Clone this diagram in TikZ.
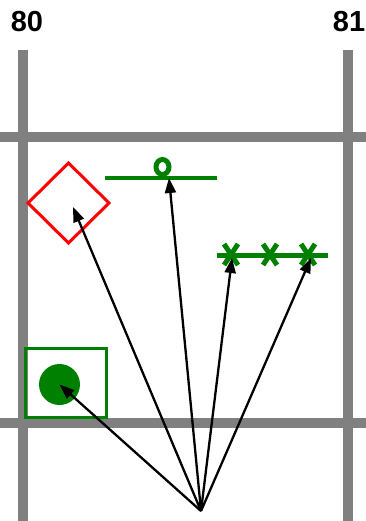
\documentclass[tikz,border=0pt]{standalone}
\usepackage{fontspec}
\setmainfont{Liberation Sans}
\usetikzlibrary{arrows.meta}
\definecolor{gridgray}{HTML}{808080}
\definecolor{dgreen}{HTML}{008000}
\begin{document}
\begin{tikzpicture}[x=1pt,y=-1pt,
  gridline/.style={gridgray,line width=10pt},
  lbl/.style={font=\fontsize{29}{30}\selectfont\bfseries,inner sep=0pt},
  greenline/.style={dgreen,line width=4.5pt},
  xmark/.style={dgreen,line width=5pt},
  arr/.style={black,line width=2.3pt,-{Triangle[length=15pt,width=11pt]}}]
\useasboundingbox (0,0) rectangle (366,521);
% grid
\draw[gridline] (23,50) -- (23,521);
\draw[gridline] (348,50) -- (348,521);
\draw[gridline] (0,137) -- (366,137);
\draw[gridline] (0,423) -- (366,423);
\node[lbl] (l80) at (27,22) {80};
\node[lbl] (l81) at (349,22) {81};
% diamond
\draw[red,line width=3pt] (68.5,163) -- (109,203) -- (68.5,243) -- (28,203) -- cycle;
\coordinate (dia) at (73,207);
% box with circle
\draw[dgreen,line width=3pt] (25,348) rectangle (106,417);
\fill[dgreen] (59.5,384.5) circle (20.5);
\coordinate (dot) at (59.5,384.5);
% o line
\draw[greenline] (105,178) -- (217,178);
\draw[dgreen,line width=5pt] (162.5,167) ellipse (6.5 and 7.5);
\coordinate (omark) at (169,178);
% x line
\draw[greenline] (217,255.5) -- (328,255.5);
\foreach \cx in {231,270,308}{
  \draw[xmark] (\cx-7,244) -- (\cx+7,265);
  \draw[xmark] (\cx+7,244) -- (\cx-7,265);
}
\coordinate (x1) at (232,258);
\coordinate (x3) at (311,258);
% arrows
\coordinate (src) at (201,511);
\draw[arr] (src) -- (dot);
\draw[arr] (src) -- (dia);
\draw[arr] (src) -- (omark);
\draw[arr] (src) -- (x1);
\draw[arr] (src) -- (x3);
\end{tikzpicture}
\end{document}
